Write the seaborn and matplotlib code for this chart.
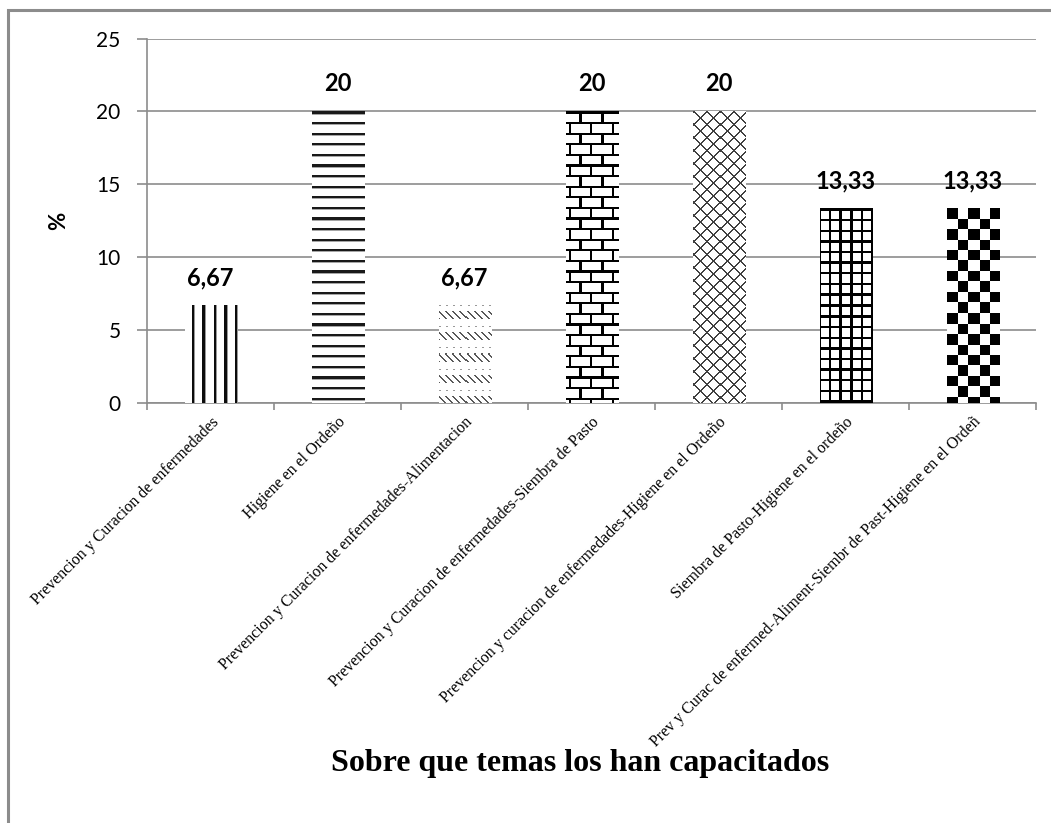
import matplotlib
matplotlib.use("Agg")
import matplotlib.pyplot as plt
import numpy as np
import pandas as pd
import seaborn as sns
from matplotlib.patches import Rectangle

temas = [
    "Prevencion y Curacion de enfermedades",
    "Higiene en el Ordeño",
    "Prevencion y Curacion de enfermedades-Alimentacion",
    "Prevencion y Curacion de enfermedades-Siembra de Pasto",
    "Prevencion y curacion de enfermedades-Higiene en el Ordeño",
    "Siembra de Pasto-Higiene en el ordeño",
    "Prev y Curac de enfermed-Aliment-Siembr de Past-Higiene en el Ordeñ",
]
porcentajes = [6.67, 20, 6.67, 20, 20, 13.33, 13.33]
patrones = ["vertical", "horizontal", "dashed_diag", "brick", "diag_cross", "grid", "checker"]
y_ticks = [0, 5, 10, 15, 20, 25]

GRAY = "#8c8c8c"

sns.set_theme(style="white")
plt.rcParams["font.family"] = ["Lato", "DejaVu Sans"]
plt.rcParams["text.color"] = "black"
plt.rcParams["axes.labelcolor"] = "black"
plt.rcParams["xtick.color"] = "black"
plt.rcParams["ytick.color"] = "black"


def make_pattern(kind: str, h: int, w: int) -> np.ndarray:
    """Pixel fill that mimics the Excel pattern fills."""
    yy, xx = np.mgrid[0:h, 0:w].astype(float)
    img = np.ones((h, w))
    if kind == "vertical":
        d = (xx + 4) % 10.5
        img[d < 2.5] = 0.05
        img[(d >= 2.5) & (d < 3.5)] = 0.6
    elif kind == "horizontal":
        d = yy % 10.6
        img[d < 2.2] = 0.1
        img[(d >= 2.2) & (d < 3.2)] = 0.65
    elif kind == "dashed_diag":
        band = yy % 21
        dash = (xx - yy) % 7
        img[(band >= 6) & (band < 14) & (dash < 2)] = 0.35
        img[(band < 1) & (xx % 7 < 2)] = 0.6
    elif kind == "brick":
        row = np.floor(yy / 10.6)
        ry = yy % 10.6
        img[ry < 2.2] = 0.0
        bx = (xx + 8 + (row % 2) * 10.5) % 21
        img[(bx < 2.2)] = 0.0
    elif kind == "diag_cross":
        p = 13.0
        a = (xx + yy) % p
        b = (xx - yy) % p
        img[(a < 1.4) | (b < 1.4)] = 0.25
    elif kind == "grid":
        dx = (xx + 2) % 10.3
        dy = yy % 10.6
        img[(dx < 2.4) | (dy < 2.4)] = 0.0
    elif kind == "checker":
        s = 10.4
        cx = np.floor(xx / s)
        cy = np.floor(yy / s)
        img[((cx + cy) % 2) == 0] = 0.0
    return img


fig = plt.figure(figsize=(10.51, 8.23), dpi=100)
ax = fig.add_axes([0.1399, 0.5103, 0.8459, 0.4429])

df = pd.DataFrame({"tema": temas, "pct": porcentajes})
sns.barplot(data=df, x="tema", y="pct", order=temas, color="white",
            width=0.41, edgecolor="none", linewidth=0, ax=ax, zorder=2)

ax.set_xlim(-0.5, len(temas) - 0.5)
ax.set_ylim(0, 25)

# pattern fills drawn into each bar
for patch, kind in zip(ax.patches, patrones):
    x0, w, h = patch.get_x(), patch.get_width(), patch.get_height()
    p0 = ax.transData.transform((x0, 0))
    p1 = ax.transData.transform((x0 + w, h))
    wpx = max(int(round(abs(p1[0] - p0[0]))), 1)
    hpx = max(int(round(abs(p1[1] - p0[1]))), 1)
    img = make_pattern(kind, hpx, wpx)
    ax.imshow(img, extent=(x0, x0 + w, 0, h), cmap="gray", vmin=0, vmax=1,
              aspect="auto", interpolation="nearest", zorder=3)

ax.set_xlim(-0.5, len(temas) - 0.5)
ax.set_ylim(0, 25)

# value labels
etiquetas = [f"{v:g}".replace(".", ",") for v in porcentajes]
for i, (v, t) in enumerate(zip(porcentajes, etiquetas)):
    ax.annotate(t, (i, v), xytext=(0, 12), textcoords="offset points",
                ha="center", va="bottom", fontsize=17, fontweight="bold",
                color="black", zorder=5)

ax.set_yticks(y_ticks)
ax.set_yticklabels([str(t) for t in y_ticks], fontsize=15)
ax.yaxis.grid(True, color=GRAY, linewidth=1.2)
ax.set_axisbelow(True)

ax.set_xticks(range(len(temas)))
ax.set_xticklabels(temas, rotation=45, ha="right", rotation_mode="anchor",
                   fontsize=11.5, family=["Liberation Serif", "DejaVu Serif"])
ax.set_xticks(np.arange(-0.5, len(temas), 1), minor=True)
ax.tick_params(axis="x", which="major", length=0, pad=8)
ax.tick_params(axis="x", which="minor", length=5, width=1.2, color=GRAY, direction="out", bottom=True)
ax.tick_params(axis="y", length=7, width=1.2, color=GRAY, direction="out", left=True, pad=12)

for side in ["top", "right"]:
    ax.spines[side].set_visible(False)
for side in ["left", "bottom"]:
    ax.spines[side].set_color(GRAY)
    ax.spines[side].set_linewidth(1.2)

ax.set_xlabel("Sobre que temas los han capacitados", fontsize=23, fontweight="bold",
              family=["Liberation Serif", "DejaVu Serif"])
ax.xaxis.set_label_coords(0.487, -0.950)
ax.set_ylabel("%", fontsize=16, fontweight="bold")
ax.yaxis.set_label_coords(-0.099, 0.5)
ax.yaxis.label.set_verticalalignment("center")

# chart frame (only left and top edges visible in the crop)
frame = Rectangle((8 / 1051, -0.1), 1.2, 1.1 - 10 / 823, transform=fig.transFigure,
                  fill=False, edgecolor=GRAY, linewidth=2.2, zorder=0)
fig.patches.append(frame)

fig.savefig("out.png", dpi=100)
